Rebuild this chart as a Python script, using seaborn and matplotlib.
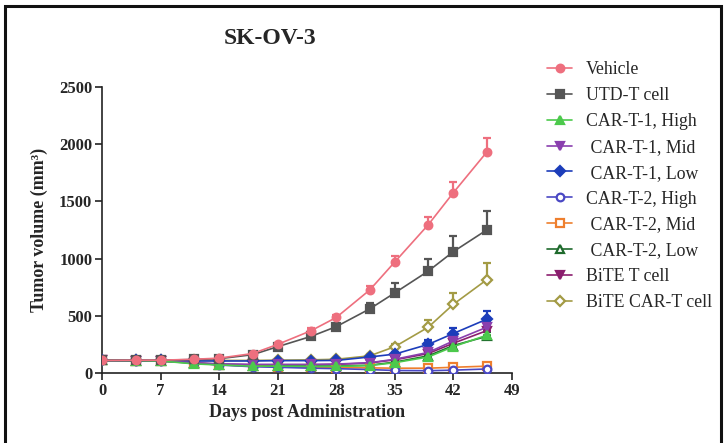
import numpy as np
import pandas as pd
import matplotlib
matplotlib.use("Agg")
import matplotlib.pyplot as plt
from matplotlib.patches import Rectangle
import seaborn as sns

# Tumor growth study: mean tumor volume (mm^3) with upper SEM bars
days = [0, 4, 7, 11, 14, 18, 21, 25, 28, 32, 35, 39, 42, 46]

vehicle = [110, 112, 112, 120, 130, 170, 250, 370, 485, 725, 970, 1295, 1575, 1930]
utd_t = [110, 110, 112, 118, 125, 160, 230, 320, 405, 560, 700, 890, 1060, 1250]
car1_high = [110, 108, 105, 80, 70, 60, 60, 58, 58, 65, 90, 140, 230, 330]
car1_mid = [110, 108, 105, 90, 80, 75, 75, 75, 78, 90, 120, 180, 280, 400]
car1_low = [110, 110, 110, 105, 105, 105, 108, 108, 110, 140, 165, 250, 345, 470]
car2_high = [110, 108, 105, 90, 70, 55, 50, 42, 38, 30, 22, 20, 25, 35]
car2_mid = [110, 108, 105, 90, 72, 60, 55, 50, 48, 45, 42, 42, 50, 60]
car2_low = [110, 108, 105, 85, 72, 62, 62, 60, 60, 68, 95, 150, 240, 320]
bite_t = [110, 108, 105, 88, 78, 72, 72, 72, 75, 88, 115, 170, 260, 370]
bite_car_t = [110, 110, 110, 110, 110, 110, 112, 115, 120, 150, 230, 400, 600, 815]

vehicle_sem = [5, 5, 5, 8, 10, 12, 15, 20, 25, 35, 50, 70, 95, 125]
utd_t_sem = [5, 5, 5, 8, 10, 12, 15, 18, 25, 50, 90, 110, 140, 165]
car1_high_sem = [5, 5, 5, 6, 6, 6, 6, 6, 6, 8, 10, 15, 25, 35]
car1_mid_sem = [5, 5, 5, 6, 6, 6, 6, 6, 8, 10, 15, 20, 30, 45]
car1_low_sem = [5, 5, 5, 6, 6, 6, 8, 8, 10, 15, 20, 35, 50, 70]
car2_high_sem = [5, 5, 5, 5, 5, 5, 4, 4, 4, 3, 3, 3, 4, 5]
car2_mid_sem = [5, 5, 5, 5, 5, 5, 4, 4, 4, 4, 4, 5, 6, 8]
car2_low_sem = [5, 5, 5, 6, 6, 6, 6, 6, 6, 8, 10, 15, 25, 35]
bite_t_sem = [5, 5, 5, 6, 6, 6, 6, 6, 6, 8, 12, 20, 30, 40]
bite_car_t_sem = [5, 5, 5, 6, 6, 6, 6, 8, 10, 15, 25, 60, 100, 150]

labels = ["Vehicle", "UTD-T cell", "CAR-T-1, High", " CAR-T-1, Mid", " CAR-T-1, Low",
          "CAR-T-2, High", " CAR-T-2, Mid", " CAR-T-2, Low", "BiTE T cell", "BiTE CAR-T cell"]
means = [vehicle, utd_t, car1_high, car1_mid, car1_low, car2_high, car2_mid, car2_low,
         bite_t, bite_car_t]
sems = [vehicle_sem, utd_t_sem, car1_high_sem, car1_mid_sem, car1_low_sem, car2_high_sem,
        car2_mid_sem, car2_low_sem, bite_t_sem, bite_car_t_sem]

colors = ["#EE6F7E", "#555555", "#4CC94C", "#8A3FAE", "#1C3DBA",
          "#4A48C4", "#EE7F2E", "#1E6A2C", "#8B1E6E", "#A39B45"]
markers = ["o", "s", "^", "v", "D", "o", "s", "^", "v", "D"]
filled = [True, True, True, True, True, False, False, False, True, False]

df = pd.concat(
    [pd.DataFrame({"day": days, "volume": m, "sem": s, "group": g})
     for g, m, s in zip(labels, means, sems)],
    ignore_index=True,
)

sns.set_style("ticks")
plt.rcParams["font.family"] = ["Liberation Serif", "DejaVu Serif"]

fig = plt.figure(figsize=(7.24, 4.43), dpi=100)
ax = fig.add_axes([0.141, 0.158, 0.566, 0.646])

# draw later groups first so Vehicle ends up on top
for i in reversed(range(len(labels))):
    g = labels[i]
    sub = df[df["group"] == g]
    ax.errorbar(sub["day"], sub["volume"],
                yerr=[np.zeros(len(sub)), sub["sem"]],
                fmt="none", ecolor=colors[i], elinewidth=1.6, capsize=3, capthick=1.6,
                zorder=2 + i * 0.01)
    sns.lineplot(data=sub, x="day", y="volume", ax=ax, color=colors[i],
                 marker=markers[i], markersize=8 if markers[i] != "D" else 7,
                 markeredgewidth=1.6, markeredgecolor=colors[i],
                 markerfacecolor=colors[i] if filled[i] else "white",
                 linewidth=1.2, label=g, zorder=3 + (10 - i) * 0.01)

ax.set_xlim(0, 49)
ax.set_ylim(0, 2500)
ax.set_xticks(range(0, 50, 7))
ax.set_yticks(range(0, 2501, 500))
ax.spines["top"].set_visible(False)
ax.spines["right"].set_visible(False)
for sp in ("left", "bottom"):
    ax.spines[sp].set_linewidth(1.2)
    ax.spines[sp].set_color("#222222")
ax.tick_params(axis="both", direction="out", length=5, width=1.2, color="#222222",
               labelsize=12, pad=2)
for t in ax.get_xticklabels() + ax.get_yticklabels():
    t.set_fontweight("bold")
ax.set_xlabel("Days post Administration", fontsize=13, fontweight="bold", labelpad=4)
ax.set_ylabel("Tumor volume (mm³)", fontsize=13, fontweight="bold", labelpad=8)
if ax.get_legend():
    ax.get_legend().remove()

fig.text(0.373, 0.912, "SK-OV-3", fontsize=17, fontweight="bold", ha="center", va="center")

handles, lbls = ax.get_legend_handles_labels()
order = [lbls.index(l) for l in labels]
for h in handles:
    h.set_markersize(5.5)
fig.legend([handles[k] for k in order], [lbls[k] for k in order],
           loc="upper left", bbox_to_anchor=(0.756, 0.862), frameon=False,
           fontsize=12.8, labelspacing=0.5, handlelength=1.4, handletextpad=0.75,
           borderaxespad=0, borderpad=0)

# outer frame around the panel
fig.add_artist(Rectangle((0.007, -0.02), 0.989, 1.006, transform=fig.transFigure,
                         fill=False, lw=2.2, edgecolor="#111111"))

fig.savefig("out.png", dpi=100, facecolor="white")
